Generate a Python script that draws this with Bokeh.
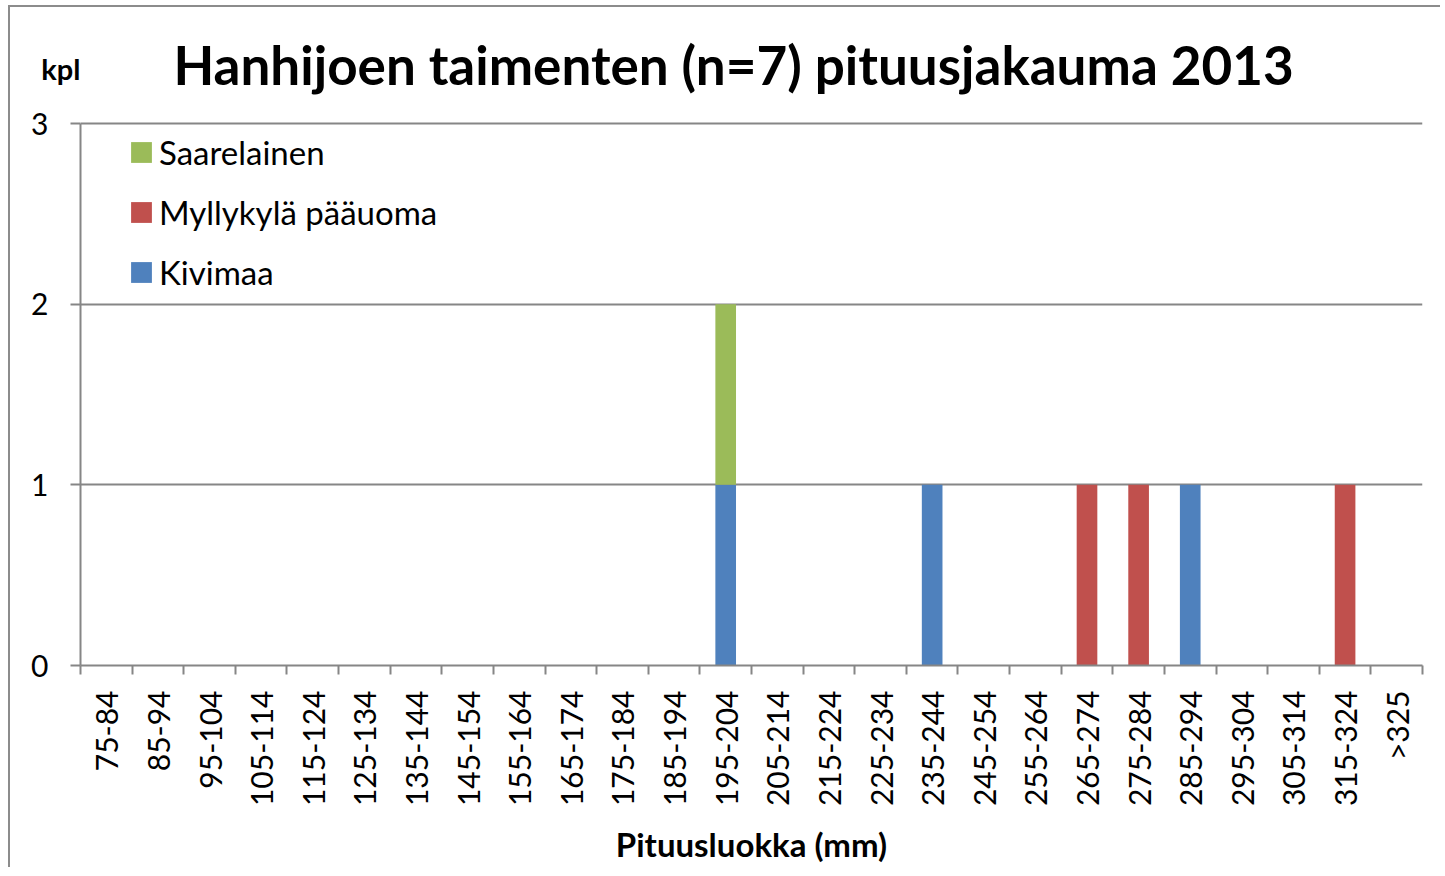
import math
from bokeh.plotting import figure
from bokeh.models import (Range1d, FixedTicker, Legend, LegendItem, Label,
                          ColumnDataSource, LinearAxis)
from bokeh.embed import file_html
from bokeh.resources import INLINE

# ---- data ----
categories = ["75-84", "85-94", "95-104", "105-114", "115-124", "125-134", "135-144",
              "145-154", "155-164", "165-174", "175-184", "185-194", "195-204",
              "205-214", "215-224", "225-234", "235-244", "245-254", "255-264",
              "265-274", "275-284", "285-294", "295-304", "305-314", "315-324", ">325"]
kivimaa     = [0, 0, 0, 0, 0, 0, 0, 0, 0, 0, 0, 0, 1, 0, 0, 0, 1, 0, 0, 0, 0, 1, 0, 0, 0, 0]
myllykyla   = [0, 0, 0, 0, 0, 0, 0, 0, 0, 0, 0, 0, 0, 0, 0, 0, 0, 0, 0, 1, 1, 0, 0, 0, 1, 0]
saarelainen = [0, 0, 0, 0, 0, 0, 0, 0, 0, 0, 0, 0, 1, 0, 0, 0, 0, 0, 0, 0, 0, 0, 0, 0, 0, 0]
series_names = ["Kivimaa", "Myllykylä pääuoma", "Saarelainen"]
series_colors = ["#4F81BD", "#C0504D", "#9BBB59"]
y_ticks = [0, 1, 2, 3]
title_text = "Hanhijoen taimenten (n=7) pituusjakauma 2013"
y_unit = "kpl"
x_title = "Pituusluokka (mm)"

FONT = "Lato"
GRAY = "#868686"

# ---- layout (screen pixels of the reference) ----
CANVAS_X0, CANVAS_Y0 = 10, 7
W, H = 1430, 860
FRAME_L, FRAME_R = 80, 1422
Y_TOP_TICK, Y_ZERO = 123, 665

n = len(categories)
centers = [i + 0.5 for i in range(n)]
bounds = list(range(n + 1))
ymax = max(y_ticks)
px_per_unit = (Y_ZERO - Y_TOP_TICK) / ymax
y_end = ymax + (Y_TOP_TICK - CANVAS_Y0) / px_per_unit
kpl_y = ymax + (Y_TOP_TICK - 68) / px_per_unit

source = ColumnDataSource({"x": centers, series_names[0]: kivimaa,
                           series_names[1]: myllykyla, series_names[2]: saarelainen})

p = figure(frame_width=FRAME_R - FRAME_L, frame_height=Y_ZERO - CANVAS_Y0,
           output_backend="svg", toolbar_location=None,
           x_range=Range1d(0, n), y_range=Range1d(0, y_end),
           min_border_left=FRAME_L - CANVAS_X0,
           min_border_right=CANVAS_X0 + W - FRAME_R,
           min_border_top=0,
           min_border_bottom=CANVAS_Y0 + H - Y_ZERO)
p.outline_line_color = None
p.background_fill_color = "white"
p.border_fill_color = "white"
p.styles = {"margin-left": "8px", "margin-top": "5px",
            "border-left": "2px solid #8c8c8c", "border-top": "2px solid #8c8c8c"}

renderers = p.vbar_stack(series_names, x="x", width=0.4, source=source,
                         color=series_colors, line_color=None)

# x axis
xa = p.xaxis[0]
xa.ticker = FixedTicker(ticks=centers, minor_ticks=bounds)
xa.major_label_overrides = {c: lab for c, lab in zip(centers, categories)}
xa.major_tick_out = 0
xa.major_tick_in = 0
xa.minor_tick_out = 9
xa.minor_tick_in = 0
xa.minor_tick_line_color = GRAY
xa.minor_tick_line_width = 2
xa.axis_line_color = GRAY
xa.axis_line_width = 2
xa.major_label_orientation = math.pi / 2
xa.major_label_standoff = 16
xa.major_label_text_font = FONT
xa.major_label_text_font_size = "30px"
xa.major_label_text_color = "black"
xa.axis_label = x_title
xa.axis_label_text_font = FONT
xa.axis_label_text_font_style = "bold"
xa.axis_label_text_font_size = "33px"
xa.axis_label_text_color = "black"
xa.axis_label_standoff = 15

# y axis
ya = p.yaxis[0]
ya.ticker = FixedTicker(ticks=y_ticks)
ya.bounds = (0, ymax)
ya.major_tick_out = 10
ya.major_tick_in = 0
ya.minor_tick_out = 0
ya.minor_tick_in = 0
ya.major_tick_line_color = GRAY
ya.major_tick_line_width = 2
ya.axis_line_color = GRAY
ya.axis_line_width = 2
ya.major_label_standoff = 22
ya.major_label_text_font = FONT
ya.major_label_text_font_size = "30px"
ya.major_label_text_color = "black"

# unit label "kpl" as an extra left axis with one labelled tick
ua = LinearAxis(ticker=FixedTicker(ticks=[kpl_y]), major_label_overrides={kpl_y: y_unit},
                axis_line_color=None, major_tick_line_color=None, minor_tick_line_color=None,
                major_tick_out=0, major_tick_in=0, minor_tick_out=0, minor_tick_in=0,
                major_label_standoff=-52, major_label_text_font=FONT,
                major_label_text_font_style="bold", major_label_text_font_size="29px",
                major_label_text_color="black")
p.add_layout(ua, "left")

p.xgrid.visible = False
p.ygrid.ticker = FixedTicker(ticks=y_ticks)
p.ygrid.grid_line_color = GRAY
p.ygrid.grid_line_width = 2

# legend (reverse order like reference)
items = [LegendItem(label=name, renderers=[r]) for name, r in zip(series_names, renderers)][::-1]
legend = Legend(items=items, location=(48, 373), orientation="vertical",
                glyph_width=26, glyph_height=26, label_height=26,
                label_text_font=FONT, label_text_font_size="33px", label_text_color="black",
                label_standoff=5, spacing=20, padding=0, margin=0,
                border_line_color=None, background_fill_alpha=0)
p.add_layout(legend, "center")

# title (inside the extended frame, above the top gridline)
p.add_layout(Label(x=n / 2, y=ymax, x_offset=-18, y_offset=59, text=title_text,
                   text_align="center", text_baseline="alphabetic",
                   text_font=FONT, text_font_style="bold", text_font_size="53px",
                   text_color="black"))

open("out.html", "w").write(file_html(p, INLINE))
